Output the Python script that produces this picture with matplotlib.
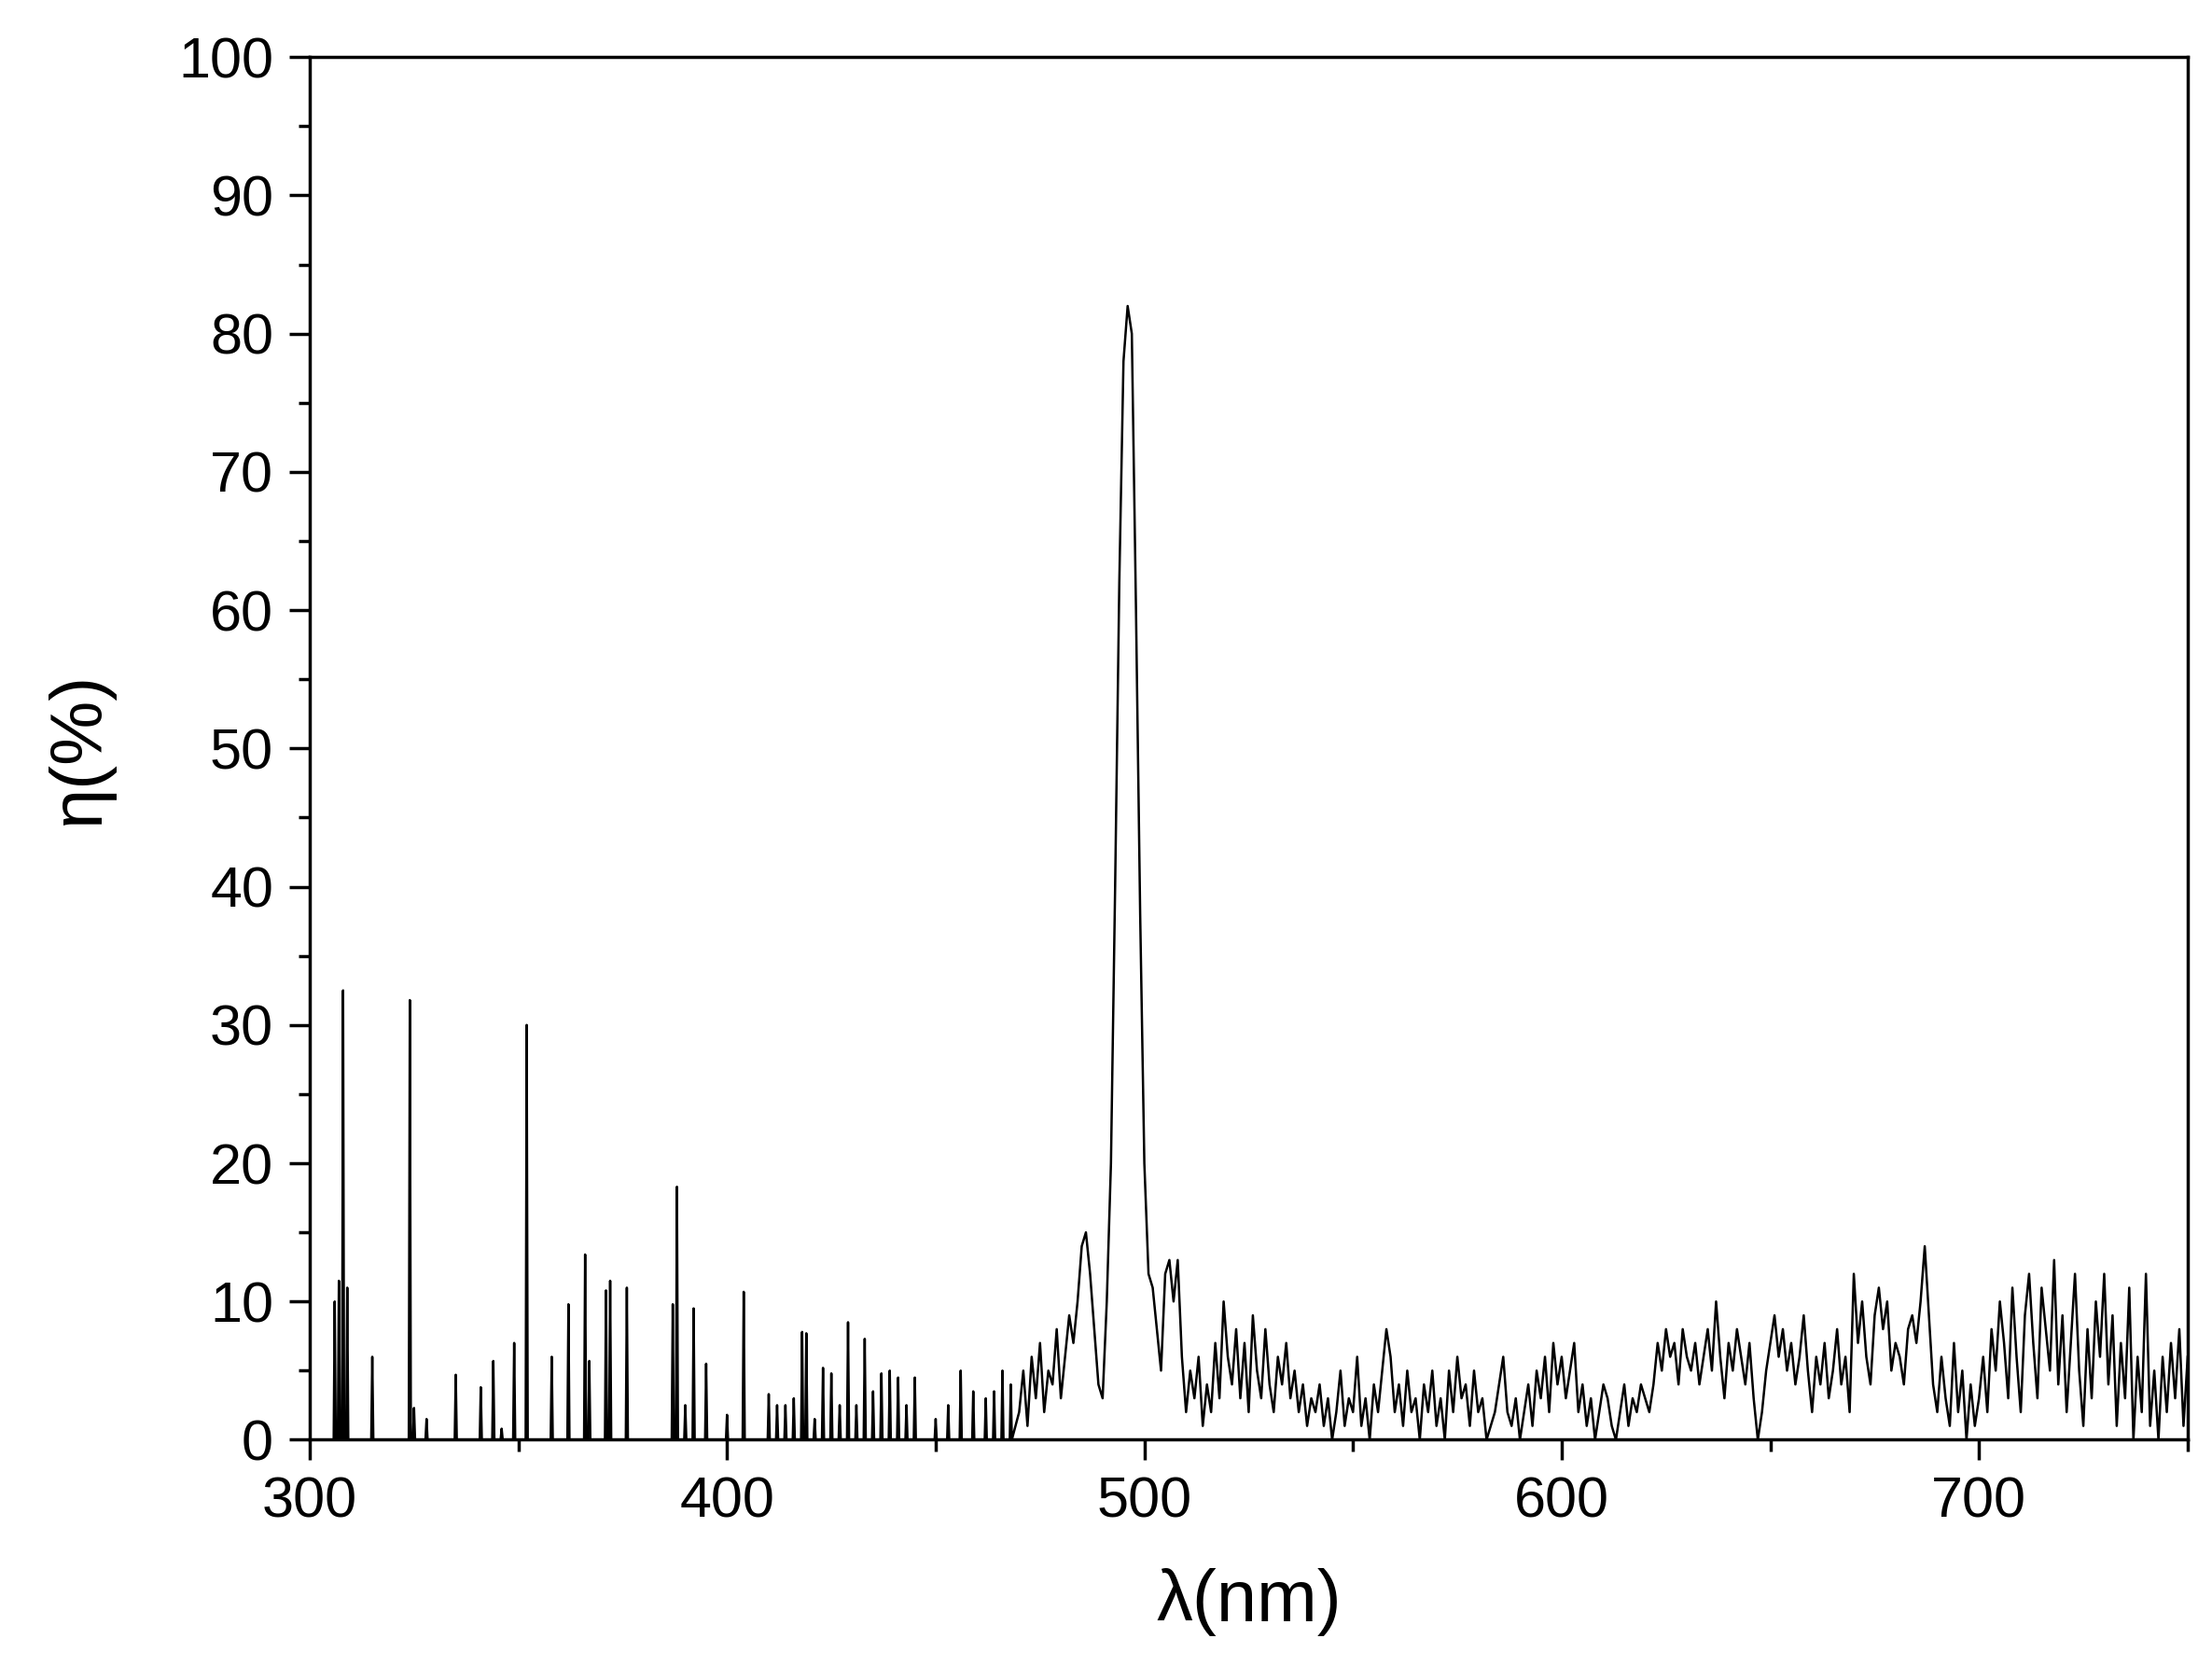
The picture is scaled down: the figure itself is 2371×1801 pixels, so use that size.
import matplotlib
matplotlib.use("Agg")
import matplotlib.pyplot as plt
import numpy as np

# sparse spike lines (wavelength nm, eta %)
spike_x = [306,307,308,309,315,324,325,328,335,341,344,346,349,352,358,362,366,367,371,372,376,
           387,388,390,392,395,400,404,410,412,414,416,418,419,421,423,425,427,429,431,433,435,
           437,439,441,443,445,450,453,456,459,462,464,466,468]
spike_y = [10,11.5,32.5,11,6,31.8,2.3,1.5,4.7,3.8,5.7,0.8,7,30,6,9.8,13.4,5.7,10.8,11.5,11,
           9.8,18.3,2.5,9.5,5.5,1.8,10.7,3.3,2.5,2.5,3,7.8,7.7,1.5,5.2,4.8,2.5,8.5,2.5,7.3,3.5,
           4.8,5,4.5,2.5,4.5,1.5,2.5,5,3.5,3,3.5,5,4]

# dense spectrum 470..750 nm, 1 nm step
dense_start = 470
dense_y = [2,5,1,6,3,7,2,5,4,8,3,
 6,9,7,10,14,15,12,8,4,3,
 10,20,40,62,78,82,80,60,38,20,
 12,11,8,5,12,13,10,13,6,2,
 5,3,6,1,4,2,7,3,10,6,
 4,8,3,7,2,9,5,3,8,4,
 2,6,4,7,3,5,2,4,1,3,
 2,4,1,3,0,2,5,1,3,2,
 6,1,3,0,4,2,5,8,6,2,
 4,1,5,2,3,0,4,2,5,1,
 3,0,5,2,6,3,4,1,5,2,
 3,0,1,2,4,6,2,1,3,0,
 2,4,1,5,3,6,2,7,4,6,
 3,5,7,2,4,1,3,0,2,4,
 3,1,0,2,4,1,3,2,4,3,
 2,4,7,5,8,6,7,4,8,6,
 5,7,4,6,8,5,10,6,3,7,
 5,8,6,4,7,3,0,2,5,7,
 9,6,8,5,7,4,6,9,5,2,
 6,4,7,3,5,8,4,6,2,12,
 7,10,6,4,9,11,8,10,5,7,
 6,4,8,9,7,10,14,9,4,2,
 6,3,1,7,2,5,0,4,1,3,
 6,2,8,5,10,7,3,11,6,2,
 9,12,7,3,11,8,5,13,4,9,
 2,7,12,5,1,8,3,10,6,12,
 4,9,1,7,3,11,0,6,2,12,
 1,5,0,6,2,7,3,8,1,6]

xs, ys = [300.0], [0.0]
for sx, sy in zip(spike_x, spike_y):
    xs += [sx-0.25, sx, sx+0.25]
    ys += [0, sy, 0]
xs += list(np.arange(dense_start, dense_start+len(dense_y)))
ys += dense_y

plt.rcParams['font.family'] = ['Liberation Sans', 'DejaVu Sans']
fig = plt.figure(figsize=(23.71, 18.01), dpi=100)
ax = fig.add_axes([0.140, 0.143, 0.849, 0.823])
ax.plot(xs, ys, color='black', lw=1.8)
ax.set_xlim(300, 750)
ax.set_ylim(0, 100)
ax.set_xticks([300,400,500,600,700])
ax.set_xticks(np.arange(350, 751, 100), minor=True)
ax.set_yticks(np.arange(0, 101, 10))
ax.set_yticks(np.arange(5, 100, 10), minor=True)
ax.tick_params(which='major', direction='out', length=16, width=2.5, labelsize=44, pad=12)
ax.tick_params(which='minor', direction='out', length=9, width=2.5)
for s in ax.spines.values():
    s.set_linewidth(2.5)
ax.set_xlabel('λ(nm)', fontsize=56, labelpad=30)
ax.set_ylabel('η(%)', fontsize=56, labelpad=50)
fig.savefig('out.png', dpi=100)
